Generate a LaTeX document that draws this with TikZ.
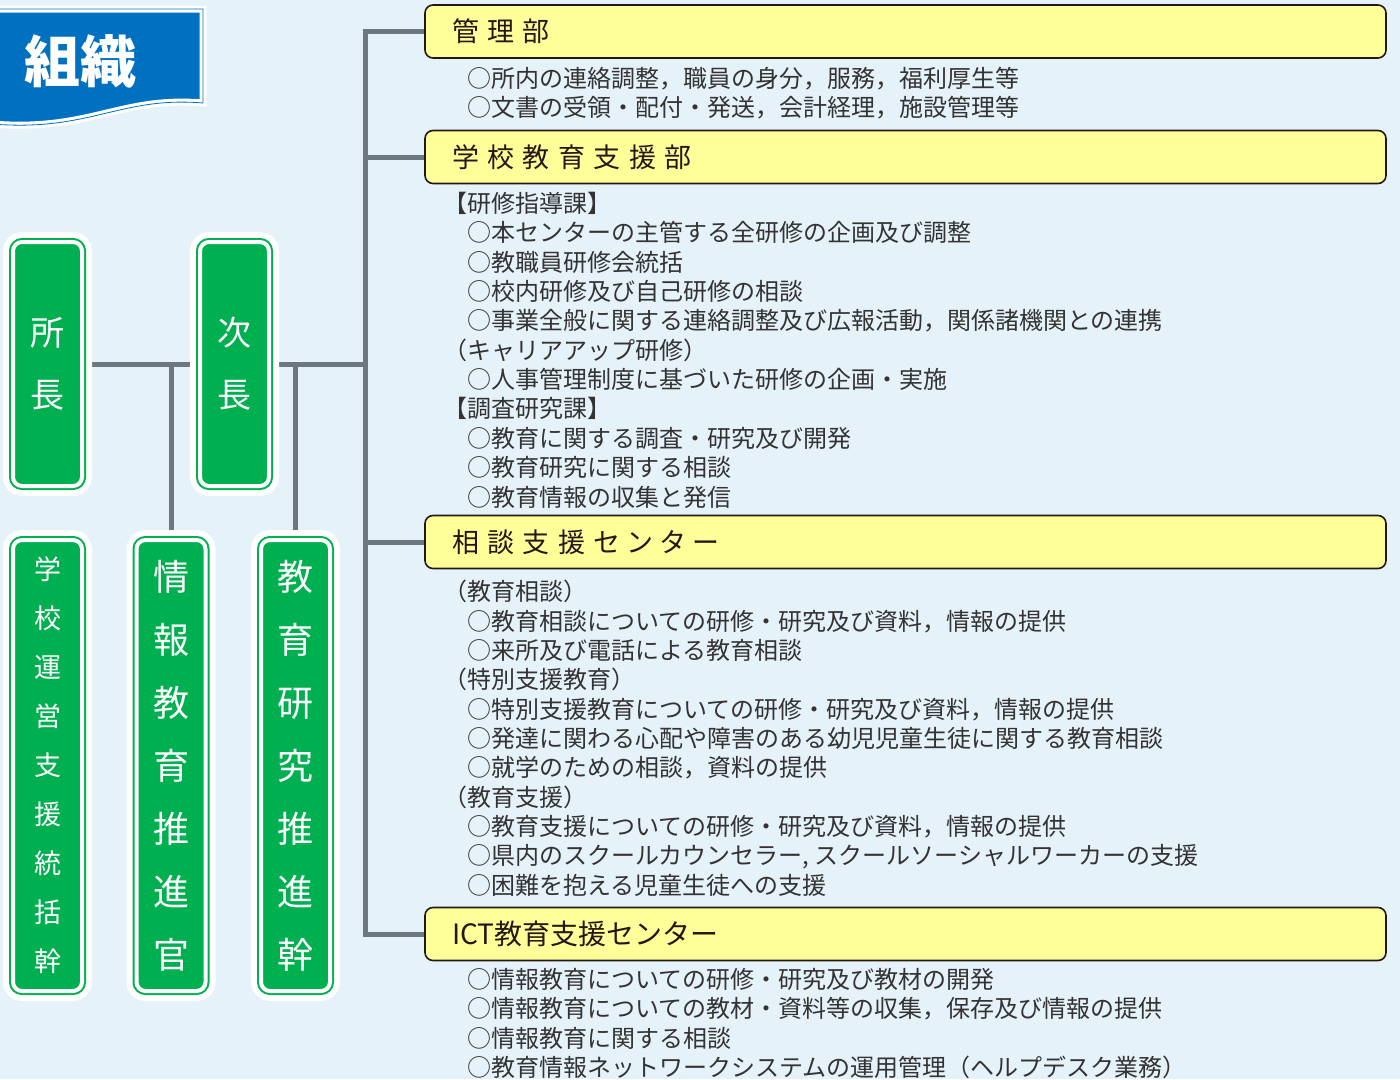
\documentclass[tikz,border=0pt]{standalone}
\usepackage{fontspec}
\setmainfont{Noto Sans CJK JP}
\usepackage{xcolor}
\usepackage{tikz}
\usetikzlibrary{backgrounds}
\definecolor{bgblue}{HTML}{E6F2FA}
\definecolor{titleblue}{HTML}{0070C0}
\definecolor{boxgreen}{HTML}{00B050}
\definecolor{boxyellow}{HTML}{FFFF99}
\definecolor{linegray}{HTML}{6C7780}
\definecolor{inkdark}{HTML}{231815}
\definecolor{textgray}{HTML}{333333}
\tikzstyle{conn}    = [linegray, line width=5pt]
\tikzstyle{postbox} = [rectangle, rounded corners=9pt, fill=boxgreen, draw=white, line width=4pt,
                       preaction={draw=white, line width=20pt}, preaction={draw=boxgreen, line width=8pt},
                       minimum width=69pt, inner sep=0pt, text=white, align=center]
\tikzstyle{deptbox} = [rectangle, rounded corners=8pt, draw=inkdark, line width=1.6pt, fill=boxyellow,
                       minimum height=53pt, text width=907pt, inner xsep=27pt, inner ysep=0pt,
                       align=left, text=inkdark, font=\fontsize{27}{30}\selectfont]
\tikzstyle{duties}  = [anchor=north west, inner sep=0pt, align=left, text=textgray,
                       font=\fontsize{24}{29.35}\selectfont]
\newcommand{\jsp}{\hspace{8.5pt}}
\newcommand{\ksp}{\hspace{6pt}}

\begin{document}
\begin{tikzpicture}[x=1pt, y=-1pt]
    \begin{scope}[on background layer]
        \fill[bgblue] (0,0) rectangle (1400,1079);
    \end{scope}
    \useasboundingbox (0,0) rectangle (1400,1079);

    % title
    \draw[fill=titleblue, draw=white, line width=7pt, postaction={draw=titleblue, line width=0.8pt}]
        (-8,9) -- (203,9) -- (203,103) .. controls (120,96) and (90,132) .. (-8,124) -- cycle;
    \node (title) at (80,61) [font=\fontsize{56}{60}\selectfont\bfseries, text=white] {組織};

    % posts
    \node (shocho)  at (47.5,364)  [postbox, minimum height=244pt, font=\fontsize{34}{62}\selectfont] {所\\長};
    \node (jicho)   at (234.5,364) [postbox, minimum height=244pt, font=\fontsize{34}{62}\selectfont] {次\\長};
    \node (unei)    at (47.5,765.5) [postbox, minimum height=451pt, font=\fontsize{27}{49}\selectfont]
          {学\\校\\運\\営\\支\\援\\統\\括\\幹};
    \node (johokan) at (171,765.5)  [postbox, minimum height=451pt, font=\fontsize{36}{63}\selectfont]
          {情\\報\\教\\育\\推\\進\\官};
    \node (kenkyu)  at (295.5,765.5) [postbox, minimum height=451pt, font=\fontsize{36}{63}\selectfont]
          {教\\育\\研\\究\\推\\進\\幹};

    % departments
    \node (kanri) at (905.5,31.5) [deptbox] {管\jsp 理\jsp 部};
    \node (gakko) at (905.5,157)  [deptbox] {学\jsp 校\jsp 教\jsp 育\jsp 支\jsp 援\jsp 部};
    \node (sodan) at (905.5,542)  [deptbox] {相\jsp 談\jsp 支\jsp 援\jsp セ\ksp ン\ksp タ\ksp ー};
    \node (ict)   at (905.5,934)  [deptbox, font=\fontsize{28}{30}\selectfont] {ICT教育支援センター};

    \node (kanriText) at (443,67) [duties]
          {　○所内の連絡調整，職員の身分，服務，福利厚生等\\
           　○文書の受領・配付・発送，会計経理，施設管理等};
    \node (gakkoText) at (443,192) [duties]
          {【研修指導課】\\
           　○本センターの主管する全研修の企画及び調整\\
           　○教職員研修会統括\\
           　○校内研修及び自己研修の相談\\
           　○事業全般に関する連絡調整及び広報活動，関係諸機関との連携\\
           （キャリアアップ研修）\\
           　○人事管理制度に基づいた研修の企画・実施\\
           【調査研究課】\\
           　○教育に関する調査・研究及び開発\\
           　○教育研究に関する相談\\
           　○教育情報の収集と発信};
    \node (sodanText) at (443,580) [duties]
          {（教育相談）\\
           　○教育相談についての研修・研究及び資料，情報の提供\\
           　○来所及び電話による教育相談\\
           （特別支援教育）\\
           　○特別支援教育についての研修・研究及び資料，情報の提供\\
           　○発達に関わる心配や障害のある幼児児童生徒に関する教育相談\\
           　○就学のための相談，資料の提供\\
           （教育支援）\\
           　○教育支援についての研修・研究及び資料，情報の提供\\
           　○県内のスクールカウンセラー, スクールソーシャルワーカーの支援\\
           　○困難を抱える児童生徒への支援};
    \node (ictText) at (443,968) [duties]
          {　○情報教育についての研修・研究及び教材の開発\\
           　○情報教育についての教材・資料等の収集，保存及び情報の提供\\
           　○情報教育に関する相談\\
           　○教育情報ネットワークシステムの運用管理（ヘルプデスク業務）};

    % connectors
    \coordinate (hub) at (365,364);
    \begin{scope}[on background layer]
        \draw[conn] (shocho.east) -- (hub);
        \draw[conn] (johokan.north |- hub) -- (johokan.north);
        \draw[conn] (kenkyu.north |- hub) -- (kenkyu.north);
        \draw[conn] (kanri.west) -| (hub |- ict.west) -- (ict.west);
        \draw[conn] (gakko.west) -- (gakko.west -| hub);
        \draw[conn] (sodan.west) -- (sodan.west -| hub);
    \end{scope}
\end{tikzpicture}
\end{document}
